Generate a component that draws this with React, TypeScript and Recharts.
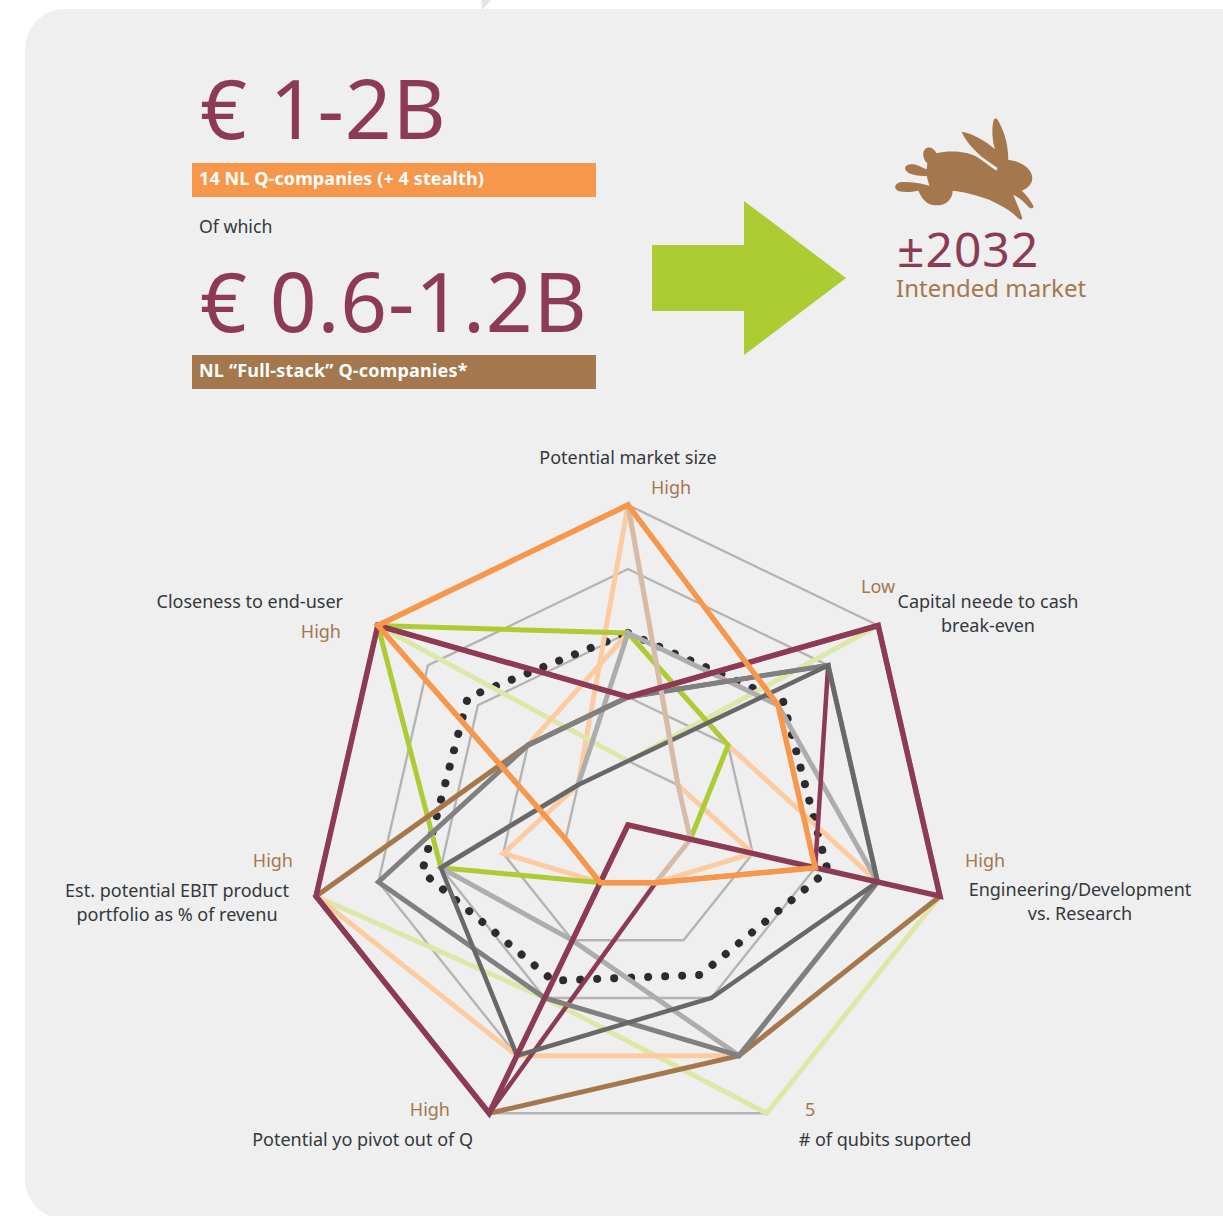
import { PolarAngleAxis, PolarGrid, PolarRadiusAxis, Radar, RadarChart } from 'recharts'

const categories = [
	'Potential market size',
	'Capital neede to cash',
	'Engineering/Development',
	'# of qubits suported',
	'Potential yo pivot out of Q',
	'Est. potential EBIT product',
	'Closeness to end-user',
]
const secondLines = ['', 'break-even', 'vs. Research', '', '', 'portfolio as % of revenu', '']
const scaleLabels = ['High', 'Low', 'High', '5', 'High', 'High', 'High']

const average = [3, 3.1, 3.2, 2.6, 2.7, 3.3, 3.2]
const peachOne = [5, 1, 2, 1, 1, 2, 1]
const lightGreen = [1, 5, 5, 5, 3, 5, 5]
const peachTwo = [3, 2, 4, 4, 4, 5, 2]
const green = [3, 2, 1, 0, 1, 3, 5]
const lightGray = [3, 3, 4, 4, 2, 3, 1]
const brown = [2, 5, 5, 4, 5, 5, 2]
const wine = [2, 4, 3, 1, 5, 5, 5]
const midGray = [2, 4, 4, 4, 3, 4, 2]
const darkGray = [1, 4, 4, 3, 4, 3, 1]
const tan = [5, 1, 1, 1, 1, 1, 5]
const wineTop = [2, 5, 5, 0, 5, 5, 5]
const orange = [5, 3, 3, 1, 1, 1, 5]

const data = categories.map((name, i) => ({
	name,
	average: average[i],
	peachOne: peachOne[i],
	lightGreen: lightGreen[i],
	peachTwo: peachTwo[i],
	green: green[i],
	lightGray: lightGray[i],
	brown: brown[i],
	wine: wine[i],
	midGray: midGray[i],
	darkGray: darkGray[i],
	tan: tan[i],
	wineTop: wineTop[i],
	orange: orange[i],
}))

const WINE = '#8D3A54'
const BROWN = '#A5774C'
const ORANGE = '#F6974B'
const GREEN = '#ADCB33'
const INK = '#33383C'
const FONT = '"Noto Sans", sans-serif'

// name x/y/anchor, second line y, scale label x/y/anchor
const labelLayout = [
	{ x: 628, y: 457, anchor: 'middle', y2: 0, sx: 651, sy: 487, sAnchor: 'start' },
	{ x: 988, y: 601, anchor: 'middle', y2: 625, sx: 861, sy: 586, sAnchor: 'start' },
	{ x: 1080, y: 889, anchor: 'middle', y2: 913, sx: 965, sy: 860, sAnchor: 'start' },
	{ x: 885, y: 1139, anchor: 'middle', y2: 0, sx: 805, sy: 1109, sAnchor: 'start' },
	{ x: 473, y: 1139, anchor: 'end', y2: 0, sx: 450, sy: 1109, sAnchor: 'end' },
	{ x: 177, y: 890, anchor: 'middle', y2: 914, sx: 293, sy: 860, sAnchor: 'end' },
	{ x: 343, y: 601, anchor: 'end', y2: 0, sx: 341, sy: 631, sAnchor: 'end' },
]

const AxisTick = ({ payload }: any) => {
	const i = categories.indexOf(payload.value)
	const l = labelLayout[i]
	return (
		<g fontFamily={FONT} fontSize={18}>
			<text x={l.x} y={l.y} textAnchor={l.anchor as any} dominantBaseline='central' fill={INK}>
				{payload.value}
			</text>
			{secondLines[i] && (
				<text x={l.x} y={l.y2} textAnchor={l.anchor as any} dominantBaseline='central' fill={INK}>
					{secondLines[i]}
				</text>
			)}
			<text x={l.sx} y={l.sy} textAnchor={l.sAnchor as any} dominantBaseline='central' fill={BROWN}>
				{scaleLabels[i]}
			</text>
		</g>
	)
}

const box = (left: number, top: number, extra: any) => ({ position: 'absolute', left, top, whiteSpace: 'nowrap', fontFamily: FONT, ...extra }) as any

const App = () => {
	return (
		<div style={{ position: 'absolute', left: 0, top: 0, width: 1223, height: 1216, overflow: 'hidden', background: '#fff' }}>
			<div style={{ position: 'absolute', left: 25, top: 9, width: 1300, height: 1210, background: '#EFEFEF', borderRadius: 40 }} />
			<svg width={1223} height={1216} style={{ position: 'absolute', left: 0, top: 0 }}>
				<polygon points='482,0 491,0 482,10' fill='#E4E4E4' />
				<rect x={192} y={163} width={404} height={34} fill={ORANGE} />
				<rect x={192} y={355} width={404} height={34} fill={BROWN} />
				<polygon points='652,245 744,245 744,201 846,278 744,355 744,311 652,311' fill={GREEN} />
				<path
					transform='translate(870 100) scale(0.3333)'
					fill={BROWN}
					d='M380,55 C400,85 415,130 415,180 C450,182 487,205 487,235 C487,255 465,270 455,272 C470,285 485,305 491,320 C488,328 480,325 475,320 C462,305 445,290 430,285 C440,310 452,335 457,355 C455,362 447,358 440,350 C420,330 390,315 360,300 C320,285 280,275 248,272 C248,300 225,318 195,316 C170,315 155,295 145,272 C120,277 90,278 80,270 C70,260 78,248 95,246 C120,245 155,250 178,257 L170,228 C145,228 120,225 108,212 C100,200 112,192 130,193 C145,195 160,205 170,208 L172,190 C160,180 155,160 165,148 C175,138 190,142 200,160 C240,150 290,155 320,170 C340,182 360,200 380,212 L382,203 L345,178 C310,150 285,120 275,95 C300,98 345,120 375,148 C365,115 365,80 372,58 Z'
				/>
			</svg>
			<div style={box(200, 52, { fontSize: 82, lineHeight: '110px', letterSpacing: 0.8, color: WINE })}>€ 1-2B</div>
			<div style={box(199, 162, { fontSize: 18, lineHeight: '32px', fontWeight: 700, letterSpacing: 0.1, color: '#fff' })}>14 NL Q-companies (+ 4 stealth)</div>
			<div style={box(199, 212, { fontSize: 17.7, lineHeight: '28px', color: INK })}>Of which</div>
			<div style={box(200, 245, { fontSize: 82, lineHeight: '110px', letterSpacing: 0.8, color: WINE })}>€ 0.6-1.2B</div>
			<div style={box(199, 354, { fontSize: 18, lineHeight: '32px', fontWeight: 700, letterSpacing: 0.2, color: '#fff' })}>NL “Full-stack” Q-companies*</div>
			<div style={box(897, 227, { fontSize: 48, lineHeight: '44px', letterSpacing: 1, color: WINE })}>±2032</div>
			<div style={box(896, 273, { fontSize: 24, lineHeight: '30px', color: BROWN })}>Intended market</div>
			<div style={{ position: 'absolute', left: 0, top: 0 }}>
				<RadarChart width={1223} height={1216} data={data} cx={628} cy={825} outerRadius={320} margin={{ top: 0, right: 0, bottom: 0, left: 0 }}>
					<PolarGrid gridType='polygon' radialLines={false} stroke='#B4B4B4' strokeWidth={2.4} />
					<PolarRadiusAxis domain={[0, 5]} tickCount={6} tick={false} axisLine={false} />
					<PolarAngleAxis dataKey='name' tick={<AxisTick />} tickLine={false} axisLine={false} />
					<Radar dataKey='average' stroke='#2E2A2F' strokeWidth={8} strokeLinecap='round' strokeDasharray='0.01 17' fill='none' isAnimationActive={false} />
					<Radar dataKey='peachOne' stroke='#FCCBA0' strokeWidth={5} fill='none' isAnimationActive={false} />
					<Radar dataKey='lightGreen' stroke='#DDE8A8' strokeWidth={5} fill='none' isAnimationActive={false} />
					<Radar dataKey='peachTwo' stroke='#FCCBA0' strokeWidth={5} fill='none' isAnimationActive={false} />
					<Radar dataKey='green' stroke={GREEN} strokeWidth={5} fill='none' isAnimationActive={false} />
					<Radar dataKey='lightGray' stroke='#ADADAD' strokeWidth={5} fill='none' isAnimationActive={false} />
					<Radar dataKey='brown' stroke={BROWN} strokeWidth={5} fill='none' isAnimationActive={false} />
					<Radar dataKey='wine' stroke={WINE} strokeWidth={4.5} fill='none' isAnimationActive={false} />
					<Radar dataKey='midGray' stroke='#808080' strokeWidth={5} fill='none' isAnimationActive={false} />
					<Radar dataKey='darkGray' stroke='#686868' strokeWidth={4.5} fill='none' isAnimationActive={false} />
					<Radar dataKey='tan' stroke='#D6BCA8' strokeWidth={5} fill='none' isAnimationActive={false} />
					<Radar dataKey='wineTop' stroke={WINE} strokeWidth={5.5} fill='none' isAnimationActive={false} />
					<Radar dataKey='orange' stroke={ORANGE} strokeWidth={5.5} fill='none' isAnimationActive={false} />
				</RadarChart>
			</div>
		</div>
	)
}

export default App
